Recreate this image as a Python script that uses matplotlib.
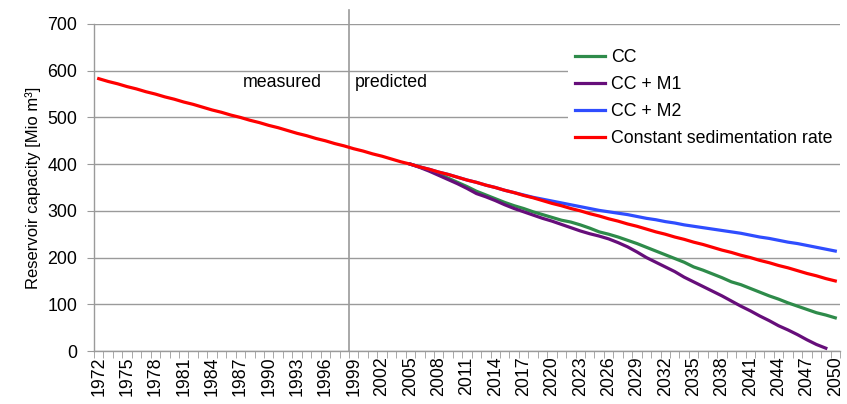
import matplotlib.pyplot as plt
import numpy as np

plt.rcParams['font.family'] = ['Liberation Sans', 'DejaVu Sans']

years = list(range(1972, 2051))

# constant sedimentation rate, measured up to 1998, extrapolated after
constant_rate = [583, 577, 572, 566, 561, 555, 550, 544, 539, 533,
                 528, 522, 516, 511, 505, 500, 494, 489, 483, 478,
                 472, 466, 461, 455, 450, 444, 439, 433, 428, 422,
                 417, 411, 405, 400, 394, 389, 383, 378, 372, 366,
                 361, 355, 350, 344, 339, 333, 328, 322, 316, 311,
                 305, 300, 294, 289, 283, 278, 272, 267, 261, 255,
                 250, 244, 239, 233, 228, 222, 216, 211, 205, 200,
                 194, 189, 183, 178, 172, 166, 161, 155, 150]

# scenario runs start in 2005
scen_years = list(range(2005, 2051))
cc = [400, 394, 387, 379, 370, 361, 352, 342, 334, 326,
      318, 311, 305, 298, 292, 286, 280, 276, 270, 263,
      255, 250, 244, 237, 230, 222, 214, 206, 198, 190,
      180, 173, 165, 157, 148, 142, 134, 126, 118, 111,
      103, 96, 89, 82, 77, 71]
cc_m1 = [400, 393, 385, 376, 367, 358, 348, 337, 330, 322,
         313, 305, 298, 291, 284, 278, 271, 264, 257, 251,
         246, 240, 232, 223, 212, 200, 190, 180, 170, 158,
         148, 138, 128, 118, 107, 96, 86, 75, 65, 54,
         45, 35, 24, 14, 6]
cc_m2 = [400, 394, 389, 383, 378, 372, 366, 361, 355, 350,
         344, 339, 334, 329, 325, 321, 317, 313, 309, 305,
         301, 298, 295, 292, 288, 284, 281, 277, 274, 270,
         267, 264, 261, 258, 255, 252, 248, 244, 241, 237,
         233, 230, 226, 222, 218, 214]

fig = plt.figure(figsize=(8.47, 4.04), dpi=100)
ax = fig.add_axes([94 / 847, 1 - 351 / 404, 746 / 847, 327 / 404])

x_all = np.arange(len(years))
x_scen = np.arange(len(scen_years)) + years.index(2005)

lw = 2.3
ax.plot(x_scen, cc, color='#2e8b4a', lw=lw, label='CC', zorder=3)
ax.plot(x_scen[:len(cc_m1)], cc_m1, color='#660e7a', lw=lw, label='CC + M1', zorder=3)
ax.plot(x_scen, cc_m2, color='#2f4dff', lw=lw, label='CC + M2', zorder=3)
ax.plot(x_all, constant_rate, color='#ff0000', lw=lw, label='Constant sedimentation rate', zorder=4)

grey = '#9a9a9a'
fs = 12.8
ax.set_xlim(-0.5, len(years) - 0.5)
ax.set_ylim(0, 700)
ax.set_yticks(range(0, 701, 100))
ax.yaxis.grid(True, color=grey, lw=1)
ax.set_axisbelow(True)

# labels every third year, tick marks between all categories
ax.set_xticks(x_all[::3])
ax.set_xticklabels([str(y) for y in years[::3]], rotation=90)
ax.set_xticks(np.arange(-0.5, len(years)), minor=True)
ax.tick_params(axis='x', which='major', length=0, labelsize=fs, pad=4)
ax.tick_params(axis='x', which='minor', length=5, color=grey, direction='out')
ax.tick_params(axis='y', length=5, color=grey, labelsize=fs, pad=7)

for s in ['top', 'right']:
    ax.spines[s].set_visible(False)
for s in ['left', 'bottom']:
    ax.spines[s].set_color(grey)
    ax.spines[s].set_linewidth(1)

ax.set_ylabel('Reservoir capacity [Mio m³]', fontsize=12, labelpad=5)

# split between measured and predicted
split = years.index(1999) - 0.5
ax.plot([split, split], [0, 1.043], color=grey, lw=1.2,
        transform=ax.get_xaxis_transform(), clip_on=False, zorder=2)
ax.text(split - 2.9, 574, 'measured', ha='right', va='center', fontsize=fs)
ax.text(split + 0.6, 574, 'predicted', ha='left', va='center', fontsize=fs)

leg = ax.legend(loc='upper right', bbox_to_anchor=(1.0, 0.945), frameon=True,
                fontsize=fs, handlelength=1.7, handletextpad=0.35,
                labelspacing=0.56, borderpad=0.4, borderaxespad=0.0)
leg.get_frame().set_edgecolor('none')
leg.get_frame().set_facecolor('white')
leg.get_frame().set_alpha(1)

fig.savefig('out.png', dpi=100)
